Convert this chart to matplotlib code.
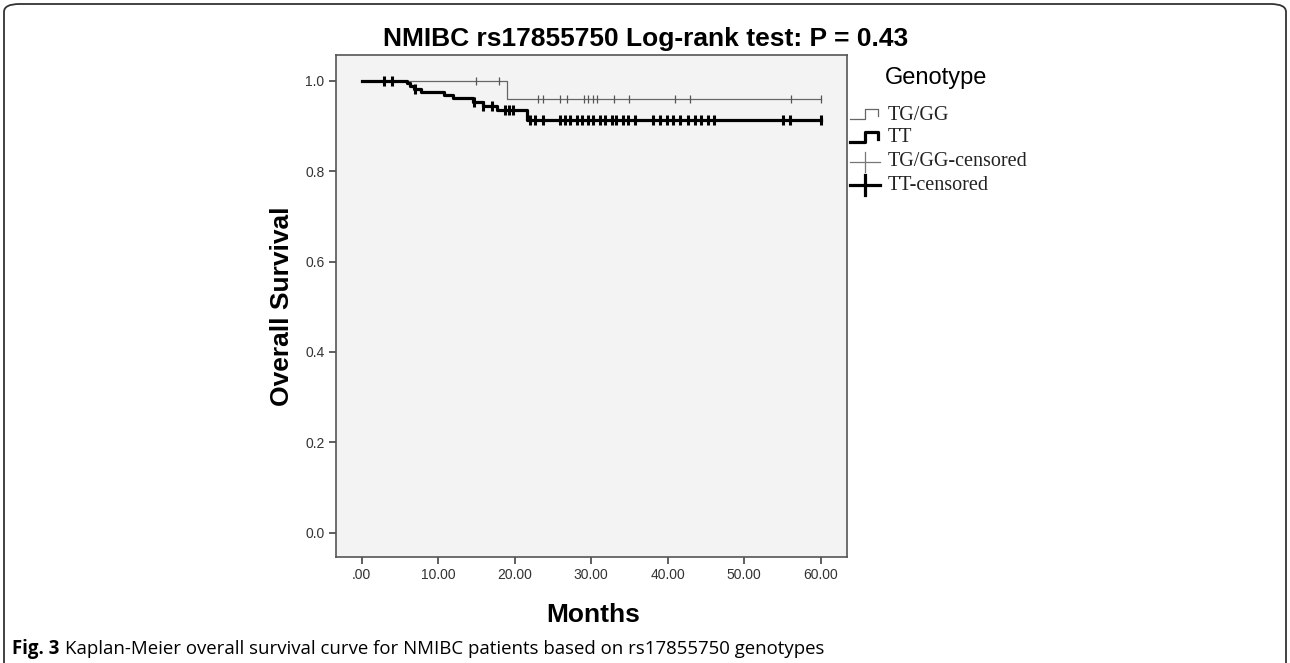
import numpy as np
import matplotlib
matplotlib.use("Agg")
import matplotlib.pyplot as plt
from matplotlib.lines import Line2D
from matplotlib.patches import FancyBboxPatch

# données (mois, survie)
tg_time = [0.0, 19.0]
tg_surv = [1.0, 0.959]
tg_cens = [14.9, 18.0, 23.0, 23.7, 25.9, 26.8, 29.0, 29.6, 30.3, 30.8, 33.0, 35.0, 41.0, 42.9, 56.1, 60.0]

tt_time = [0.0, 5.9, 6.3, 6.9, 7.8, 10.7, 11.9, 14.6, 15.9, 17.7, 21.6]
tt_surv = [1.0, 0.995, 0.989, 0.982, 0.975, 0.968, 0.961, 0.953, 0.944, 0.935, 0.913]
tt_cens = [2.95, 3.9, 7.0, 14.7, 15.9, 17.0, 18.7, 19.3, 19.8, 22.0, 22.65, 23.7, 25.9, 26.6,
           27.2, 28.1, 28.8, 29.6, 30.3, 31.2, 31.8, 32.7, 33.3, 34.2, 34.8, 35.7, 38.1, 39.0,
           39.9, 40.7, 41.6, 42.7, 43.6, 44.4, 45.3, 46.0, 55.1, 56.0, 60.0]

x_ticks = [0, 10, 20, 30, 40, 50, 60]
x_labels = [".00", "10.00", "20.00", "30.00", "40.00", "50.00", "60.00"]
y_ticks = [0.0, 0.2, 0.4, 0.6, 0.8, 1.0]
y_labels = ["0.0", "0.2", "0.4", "0.6", "0.8", "1.0"]

title = "NMIBC rs17855750 Log-rank test: P = 0.43"
legend_labels = ["TG/GG", "TT", "TG/GG-censored", "TT-censored"]
caption_bold = "Fig. 3"
caption = "Kaplan-Meier overall survival curve for NMIBC patients based on rs17855750 genotypes"

W, H = 1290, 663
fig = plt.figure(figsize=(W / 100, H / 100), dpi=100)
fig.patch.set_facecolor("white")

def fx(px):  # pixel -> fraction de figure
    return px / W

def fy(py):
    return 1 - py / H

# cadre arrondi de la figure
box = FancyBboxPatch((fx(4), fy(720)), fx(1282), fy(4) - fy(720),
                     boxstyle="round,pad=0,rounding_size=0.012", transform=fig.transFigure,
                     facecolor="none", edgecolor="#333333", linewidth=1.3)
fig.add_artist(box)

ax = fig.add_axes([fx(335.7), fy(556.7), fx(846.7) - fx(335.7), fy(55) - fy(556.7)])
ax.set_facecolor("#f3f3f3")
for s in ax.spines.values():
    s.set_color("#555555")
    s.set_linewidth(1.2)

def km_lookup(times, surv, t):
    idx = np.searchsorted(times, t, side="right") - 1
    return np.array(surv)[idx]

# TG/GG
ax.step(tg_time + [tg_cens[-1]], tg_surv + [tg_surv[-1]], where="post", color="#666666", linewidth=0.9)
ax.plot(tg_cens, km_lookup(tg_time, tg_surv, tg_cens), linestyle="none", marker="|",
        markersize=6, markeredgewidth=0.9, color="#555555")

# TT
ax.step(tt_time + [tt_cens[-1]], tt_surv + [tt_surv[-1]], where="post", color="black", linewidth=2.3)
ax.plot(tt_cens, km_lookup(tt_time, tt_surv, tt_cens), linestyle="none", marker="|",
        markersize=7, markeredgewidth=2.2, color="black")

ax.set_xlim(-3.4, 63.4)
ax.set_ylim(-0.053, 1.057)
ax.set_xticks(x_ticks)
ax.set_xticklabels(x_labels)
ax.set_yticks(y_ticks)
ax.set_yticklabels(y_labels)
ax.tick_params(direction="out", length=5, width=1.2, color="#444444", labelsize=10,
               labelcolor="#333333", pad=3)
for lab in ax.get_xticklabels() + ax.get_yticklabels():
    lab.set_family("Liberation Sans")

ax.set_ylabel("Overall Survival", fontsize=19, fontweight="bold", family="Liberation Sans")
ax.yaxis.set_label_coords((294 - 335.7) / 511, 0.5)

fig.text(fx(646), fy(46), title, ha="center", va="baseline", fontsize=19,
         fontweight="bold", family="Liberation Sans")
fig.text(fx(593), fy(622), "Months", ha="center", va="baseline", fontsize=19,
         fontweight="bold", family="Liberation Sans")

# légende
fig.text(fx(885), fy(78), "Genotype", ha="left", va="center", fontsize=17, family="Liberation Sans")
ys = [115, 138, 162, 185]
for i, lab in enumerate(legend_labels):
    fig.text(fx(888), fy(ys[i]), lab, ha="left", va="center", fontsize=14.5,
             family="Liberation Serif", color="#222222")
for i, (col, lw) in enumerate([("#666666", 0.9), ("black", 2.3)]):
    y = ys[i]
    xs = [850, 865, 865, 878, 878]
    yy = [y + 4, y + 4, y - 6, y - 6, y + 1]
    fig.add_artist(Line2D([fx(v) for v in xs], [fy(v) for v in yy], color=col, linewidth=lw,
                          transform=fig.transFigure))
for i, (col, lw) in enumerate([("#777777", 0.9), ("black", 2.3)]):
    y = ys[i + 2]
    fig.add_artist(Line2D([fx(850), fx(880)], [fy(y), fy(y)], color=col, linewidth=lw,
                          transform=fig.transFigure))
    fig.add_artist(Line2D([fx(865), fx(865)], [fy(y - 10), fy(y + 10)], color=col, linewidth=lw,
                          transform=fig.transFigure))

# légende de la figure
t1 = fig.text(fx(12), fy(654), caption_bold, ha="left", va="baseline", fontsize=13.4,
              fontweight="bold", family="Open Sans")
fig.canvas.draw()
bb = t1.get_window_extent()
fig.text((bb.x1 + 6) / W, fy(654), caption, ha="left", va="baseline", fontsize=13.4,
         family="Open Sans")

fig.savefig("out.png", dpi=100)
